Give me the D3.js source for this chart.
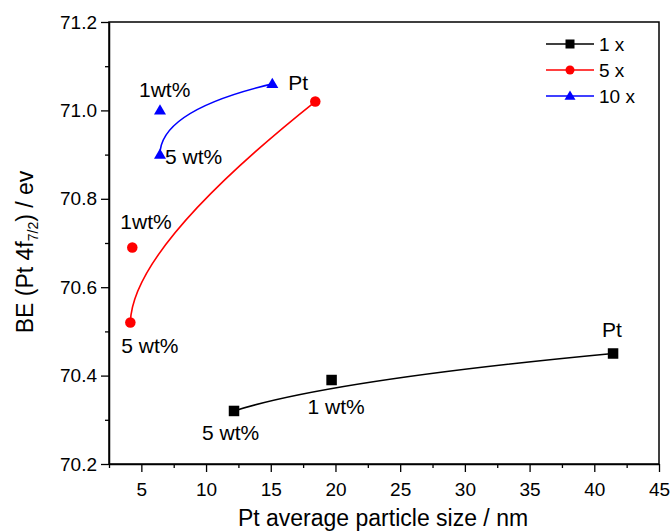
<!DOCTYPE html>
<html>
<head>
<title>BE vs particle size</title>
<style>
  body { margin: 0; background: #fff; }
  svg text { font-family: "Liberation Sans", Arial, sans-serif; }
</style>
</head>
<body>
<div id="my_dataviz"></div>
<script src="https://d3js.org/d3.v7.min.js"></script>
<script>

// series names and colours
var seriesNames = ["1 x", "5 x", "10 x"];

// particle size (nm) and binding energy (eV)
var size1x = [12.16, 19.7, 41.45];
var be1x = [70.32, 70.39, 70.45];
var text1x = ["5 wt%", "1 wt%", "Pt"];

var size5x = [4.15, 4.3, 18.44];
var be5x = [70.52, 70.69, 71.02];
var text5x = ["5 wt%", "1wt%", ""];

var size10x = [6.44, 6.44, 15.12];
var be10x = [70.90, 71.00, 71.06];
var text10x = ["5 wt%", "1wt%", "Pt"];

// axis ticks
var xTicks = [5, 10, 15, 20, 25, 30, 35, 40, 45];
var yTicks = [70.2, 70.4, 70.6, 70.8, 71.0, 71.2];

// label offsets from their point (px), same order as the text arrays
var offs1x = [[-32, 29], [-24, 34], [-11, -17]];
var offs5x = [[-9, 30], [-12, -18], [0, 0]];
var offs10x = [[5, 9], [-21, -13], [16, 6]];

var series = [
  {name: seriesNames[0], xs: size1x, ys: be1x, txt: text1x, offs: offs1x, color: "#000000", shape: "square"},
  {name: seriesNames[1], xs: size5x, ys: be5x, txt: text5x, offs: offs5x, color: "#ff0000", shape: "circle"},
  {name: seriesNames[2], xs: size10x, ys: be10x, txt: text10x, offs: offs10x, color: "#0000ff", shape: "triangle"}
];

// set the dimensions and margins of the graph
var margin = {top: 22, right: 11, bottom: 68, left: 109},
    width = 670 - margin.left - margin.right,
    height = 532 - margin.top - margin.bottom;

var svgRoot = d3.select("#my_dataviz")
  .append("svg")
    .attr("width", 670)
    .attr("height", 532);

var svg = svgRoot.append("g")
    .attr("transform", "translate(" + margin.left + "," + margin.top + ")");

var x = d3.scaleLinear().domain([2.5, 45]).range([0, width]);
var y = d3.scaleLinear().domain([70.2, 71.2]).range([height, 0]);

// minor ticks
svg.append("g")
  .attr("transform", "translate(0," + height + ")")
  .call(d3.axisBottom(x).tickValues(d3.range(2.5, 45.01, 5)).tickSize(4).tickFormat(""))
  .call(function(g) { g.select(".domain").remove(); })
  .selectAll("line").attr("stroke-width", 1.3);

svg.append("g")
  .call(d3.axisLeft(y).tickValues(d3.range(70.3, 71.2, 0.2)).tickSize(4).tickFormat(""))
  .call(function(g) { g.select(".domain").remove(); })
  .selectAll("line").attr("stroke-width", 1.3);

// major axes
var gx = svg.append("g")
  .attr("transform", "translate(0," + height + ")")
  .call(d3.axisBottom(x).tickValues(xTicks).tickSize(8).tickPadding(11).tickSizeOuter(0));
gx.select(".domain").attr("stroke-width", 1.5);
gx.selectAll(".tick line").attr("stroke-width", 1.3);
gx.selectAll("text").attr("font-size", 19).attr("fill", "#000");

var gy = svg.append("g")
  .call(d3.axisLeft(y).tickValues(yTicks).tickSize(8).tickPadding(4).tickSizeOuter(0)
    .tickFormat(d3.format(".1f")));
gy.select(".domain").attr("stroke-width", 1.5);
gy.selectAll(".tick line").attr("stroke-width", 1.3);
gy.selectAll("text").attr("font-size", 19).attr("fill", "#000");

// frame top / right
svg.append("rect")
  .attr("x", 0).attr("y", 0)
  .attr("width", width).attr("height", height)
  .attr("fill", "none").attr("stroke", "#000").attr("stroke-width", 1.5);

// marker drawing
function marker(sel, shape, color, s) {
  if (shape === "square") {
    sel.append("rect").attr("x", -s / 2).attr("y", -s / 2).attr("width", s).attr("height", s).attr("fill", color);
  } else if (shape === "circle") {
    sel.append("circle").attr("r", s / 2).attr("fill", color);
  } else {
    var h = s * 0.85;
    sel.append("path")
      .attr("d", "M0," + (-h * 0.6) + "L" + (s / 2) + "," + (h * 0.4) + "L" + (-s / 2) + "," + (h * 0.4) + "Z")
      .attr("fill", color);
  }
}

// B-spline through 3 control points (quadratic bezier), ordered as in the arrays
series.forEach(function(s) {
  var p = d3.path();
  p.moveTo(x(s.xs[0]), y(s.ys[0]));
  p.quadraticCurveTo(x(s.xs[1]), y(s.ys[1]), x(s.xs[2]), y(s.ys[2]));
  svg.append("path")
    .attr("d", p.toString())
    .attr("fill", "none")
    .attr("stroke", s.color)
    .attr("stroke-width", 1.6);
});

series.forEach(function(s) {
  s.xs.forEach(function(v, i) {
    var g = svg.append("g").attr("transform", "translate(" + x(v) + "," + y(s.ys[i]) + ")");
    marker(g, s.shape, s.color, s.shape === "triangle" ? 12 : 10.5);
    if (s.txt[i]) {
      g.append("text")
        .attr("x", s.offs[i][0]).attr("y", s.offs[i][1])
        .attr("font-size", 21).attr("fill", "#000")
        .text(s.txt[i]);
    }
  });
});

// legend
var legend = svg.append("g").attr("transform", "translate(" + (546 - margin.left) + "," + (44 - margin.top) + ")");
series.forEach(function(s, i) {
  var row = legend.append("g").attr("transform", "translate(0," + (i * 26) + ")");
  row.append("line").attr("x1", 0).attr("x2", 48).attr("y1", 0).attr("y2", 0)
    .attr("stroke", s.color).attr("stroke-width", 1.5);
  var m = row.append("g").attr("transform", "translate(24,0)");
  marker(m, s.shape, s.color, s.shape === "triangle" ? 11 : 9);
  row.append("text").attr("x", 53).attr("y", 7)
    .attr("font-size", 19).attr("fill", "#000").text(s.name);
});

// axis titles
svgRoot.append("text")
  .attr("x", margin.left + width / 2 - 1).attr("y", 526)
  .attr("text-anchor", "middle").attr("font-size", 23)
  .text("Pt average particle size / nm");

var yt = svgRoot.append("text")
  .attr("transform", "translate(33,252) rotate(-90)")
  .attr("text-anchor", "middle").attr("font-size", 23);
yt.append("tspan").text("BE (Pt 4f");
yt.append("tspan").attr("font-size", 14).attr("dy", 5).text("7/2");
yt.append("tspan").attr("dy", -5).text(") / ev");

</script>
</body>
</html>
